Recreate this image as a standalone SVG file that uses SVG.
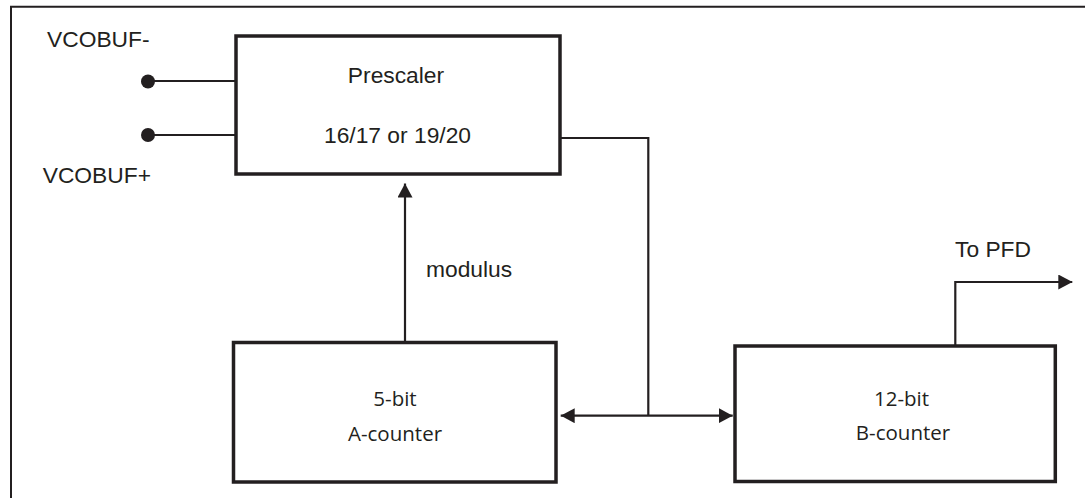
<svg xmlns="http://www.w3.org/2000/svg" width="1085" height="498" viewBox="0 0 1085 498">
<style>
.frame{fill:none;stroke:#231f20;stroke-width:2}
.box{fill:#fff;stroke:#231f20;stroke-width:3.5}
.wire{fill:none;stroke:#231f20;stroke-width:2.2}
.lbl{font-family:"Liberation Sans",Arial,sans-serif;font-size:22.8px;fill:#231f20}
.in{font-family:"Open Sans","Noto Sans",sans-serif;font-size:20.5px;fill:#231f20}
.dot{fill:#231f20}
</style>
<defs>
<marker id="ah" markerUnits="userSpaceOnUse" markerWidth="14" markerHeight="15" refX="14" refY="7.5" orient="auto">
<path d="M0,0 L14,7.5 L0,15 z" fill="#231f20"/>
</marker>
<marker id="ahs" markerUnits="userSpaceOnUse" markerWidth="14" markerHeight="15" refX="14" refY="7.5" orient="auto-start-reverse">
<path d="M0,0 L14,7.5 L0,15 z" fill="#231f20"/>
</marker>
</defs>
<rect width="1085" height="498" fill="#fff"/>
<path class="frame" d="M11,498 V6.7 H1085"/>
<g id="connectors">
<line class="wire" x1="148" y1="81" x2="236" y2="81"/>
<line class="wire" x1="148" y1="135" x2="236" y2="135"/>
<circle class="dot" cx="148" cy="81.5" r="7"/>
<circle class="dot" cx="148" cy="135" r="7"/>
<line class="wire" x1="405" y1="342" x2="405" y2="183.5" marker-end="url(#ah)"/>
<polyline class="wire" points="560,138 648.3,138 648.3,415.7"/>
<line class="wire" x1="560.7" y1="415.7" x2="732.7" y2="415.7" marker-start="url(#ahs)" marker-end="url(#ah)"/>
<polyline class="wire" points="955.3,346 955.3,282 1072.3,282" marker-end="url(#ah)"/>
</g>
<g id="vcobuf-minus"><text class="lbl" x="47" y="47">VCOBUF-</text></g>
<g id="vcobuf-plus"><text class="lbl" x="42.7" y="182.7">VCOBUF+</text></g>
<g id="modulus"><text class="lbl" x="426" y="276.7">modulus</text></g>
<g id="to-pfd"><text class="lbl" x="955" y="257.3">To PFD</text></g>
<g id="prescaler">
<rect class="box" x="236" y="36" width="324" height="138"/>
<text class="lbl" x="396" y="83.3" text-anchor="middle">Prescaler</text>
<text class="lbl" x="397.5" y="143.3" text-anchor="middle">16/17 or 19/20</text>
</g>
<g id="a-counter">
<rect class="box" x="233.5" y="342.5" width="322.5" height="139.5"/>
<text class="in" x="395" y="406" text-anchor="middle">5-bit</text>
<text class="in" x="395" y="440.7" text-anchor="middle">A-counter</text>
</g>
<g id="b-counter">
<rect class="box" x="735" y="346" width="320.3" height="135.5"/>
<text class="in" x="901.5" y="405.7" text-anchor="middle">12-bit</text>
<text class="in" x="903" y="440" text-anchor="middle">B-counter</text>
</g>
</svg>
